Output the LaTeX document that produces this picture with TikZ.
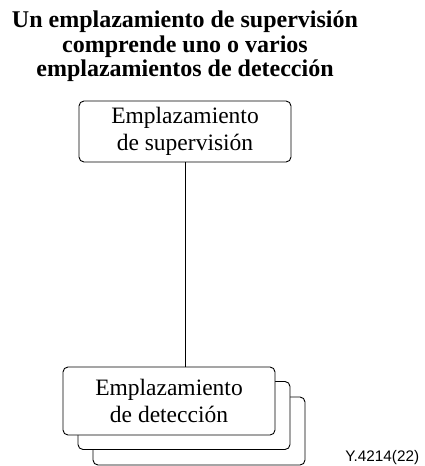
\documentclass[tikz,border=0pt]{standalone}
\usepackage{fontspec}
\setmainfont{Liberation Serif}
\setsansfont{Liberation Sans}
\usepackage{tikz}

\begin{document}
\begin{tikzpicture}[x=1pt,y=-1pt,line width=0.9pt,
    sitebox/.style={draw,rounded corners=5pt,fill=white,minimum width=212pt,
        minimum height=68pt,align=center,inner sep=0pt,
        font=\fontsize{23.5}{27}\selectfont}]
    \useasboundingbox (0,0) rectangle (424,466);

    \node[align=center,inner sep=0pt,anchor=north,
        font=\bfseries\fontsize{24}{24.5}\selectfont] (title) at (185,10.5)
        {Un emplazamiento de supervisión\\comprende uno o varios\\emplazamientos de detección};

    \node[sitebox,minimum height=61pt] (sup) at (185,131.5) {Emplazamiento\\de supervisión};

    % pila de emplazamientos de deteccion
    \node[sitebox] (det3) at (199,431) {};
    \node[sitebox] (det2) at (184,415.5) {};
    \node[sitebox] (det) at (169,401) {Emplazamiento\\de detección};

    \draw (sup.south) -- (det.north-|sup.south);

    \node[font=\sffamily\fontsize{15.3}{17}\selectfont,anchor=base west,inner sep=0pt] (ref) at (345,461) {Y.4214(22)};
\end{tikzpicture}
\end{document}
